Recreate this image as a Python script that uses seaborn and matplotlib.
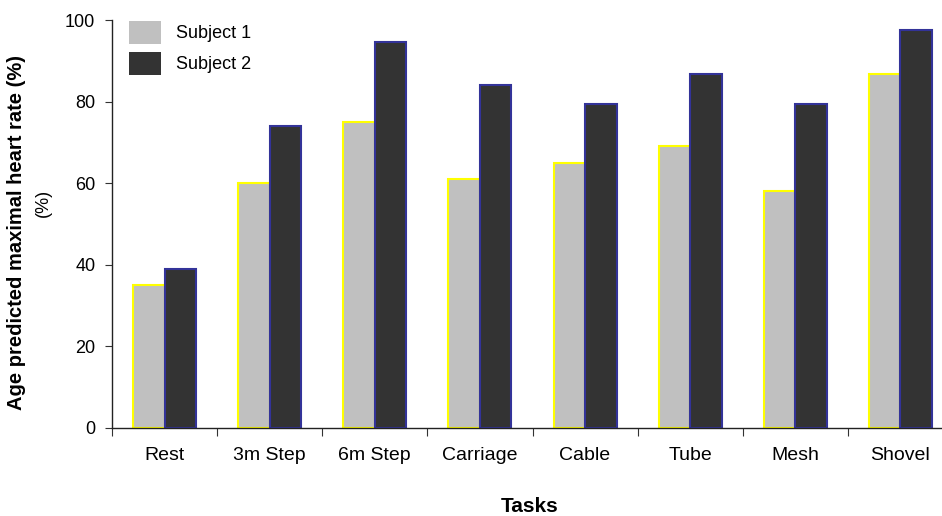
import pandas as pd
import matplotlib
matplotlib.use("Agg")
import matplotlib.pyplot as plt
import seaborn as sns

tasks = ["Rest", "3m Step", "6m Step", "Carriage", "Cable", "Tube", "Mesh", "Shovel"]
subject1 = [35, 60, 75, 61, 65, 69, 58, 86.7]
subject2 = [39, 74, 94.7, 84, 79.5, 86.8, 79.4, 97.6]
subjects = ["Subject 1", "Subject 2"]

df = pd.DataFrame({
    "task": tasks * 2,
    "value": subject1 + subject2,
    "subject": [subjects[0]] * len(tasks) + [subjects[1]] * len(tasks),
})

sns.set_style("white")
plt.rcParams["font.family"] = ["Liberation Sans", "DejaVu Sans"]
plt.rcParams["text.color"] = "black"
plt.rcParams["xtick.color"] = "black"
plt.rcParams["ytick.color"] = "black"

fig = plt.figure(figsize=(9.42, 5.16), dpi=100)
ax = fig.add_axes([112 / 942, 1 - 428 / 516, 841 / 942, 408 / 516])

sns.barplot(data=df, x="task", y="value", hue="subject", order=tasks,
            hue_order=subjects, palette=["#c0c0c0", "#333333"],
            width=0.6, saturation=1, ax=ax, legend=True)

edges = ["#ffff00", "#333399"]
for cont, ec in zip(ax.containers, edges):
    for bar in cont:
        bar.set_edgecolor(ec)
        bar.set_linewidth(1.5)

ax.set_ylim(0, 100)
ax.set_xlim(-0.5, 7.5)
ax.set_yticks([0, 20, 40, 60, 80, 100])
ax.tick_params(axis="y", labelsize=13, length=5, width=0.8, direction="out",
               left=True, pad=7, color="#333333")
ax.set_xticks(range(len(tasks)))
ax.set_xticklabels(tasks)
ax.tick_params(axis="x", which="major", labelsize=14, length=0, pad=14)
ax.set_xticks([i - 0.5 for i in range(len(tasks) + 1)], minor=True)
ax.tick_params(axis="x", which="minor", length=6, width=0.8, direction="out",
               bottom=True, color="#333333")

for side in ["top", "right"]:
    ax.spines[side].set_visible(False)
for side in ["left", "bottom"]:
    ax.spines[side].set_color("#222222")
    ax.spines[side].set_linewidth(1)

ax.set_xlabel("")
ax.set_ylabel("")
fig.text(530 / 942, 1 - 507 / 516, "Tasks", fontsize=15, fontweight="bold",
         ha="center", va="center")
fig.text(17 / 942, 1 - 232 / 516, "Age predicted maximal heart rate (%)", fontsize=14.5,
         fontweight="bold", rotation=90, ha="center", va="center")
fig.text(43 / 942, 1 - 203 / 516, "(%)", fontsize=13, rotation=90,
         ha="center", va="center")

handles, labels = ax.get_legend_handles_labels()
for h in handles:
    h.set_edgecolor("none")
ax.legend(handles, labels, loc="upper left", bbox_to_anchor=(129 / 942, 1 - 21 / 516),
          bbox_transform=fig.transFigure, frameon=False, fontsize=13,
          handlelength=1.78, handleheight=1.55, handletextpad=0.85,
          labelspacing=0.47, borderpad=0, borderaxespad=0)

fig.savefig("out.png", dpi=100)
